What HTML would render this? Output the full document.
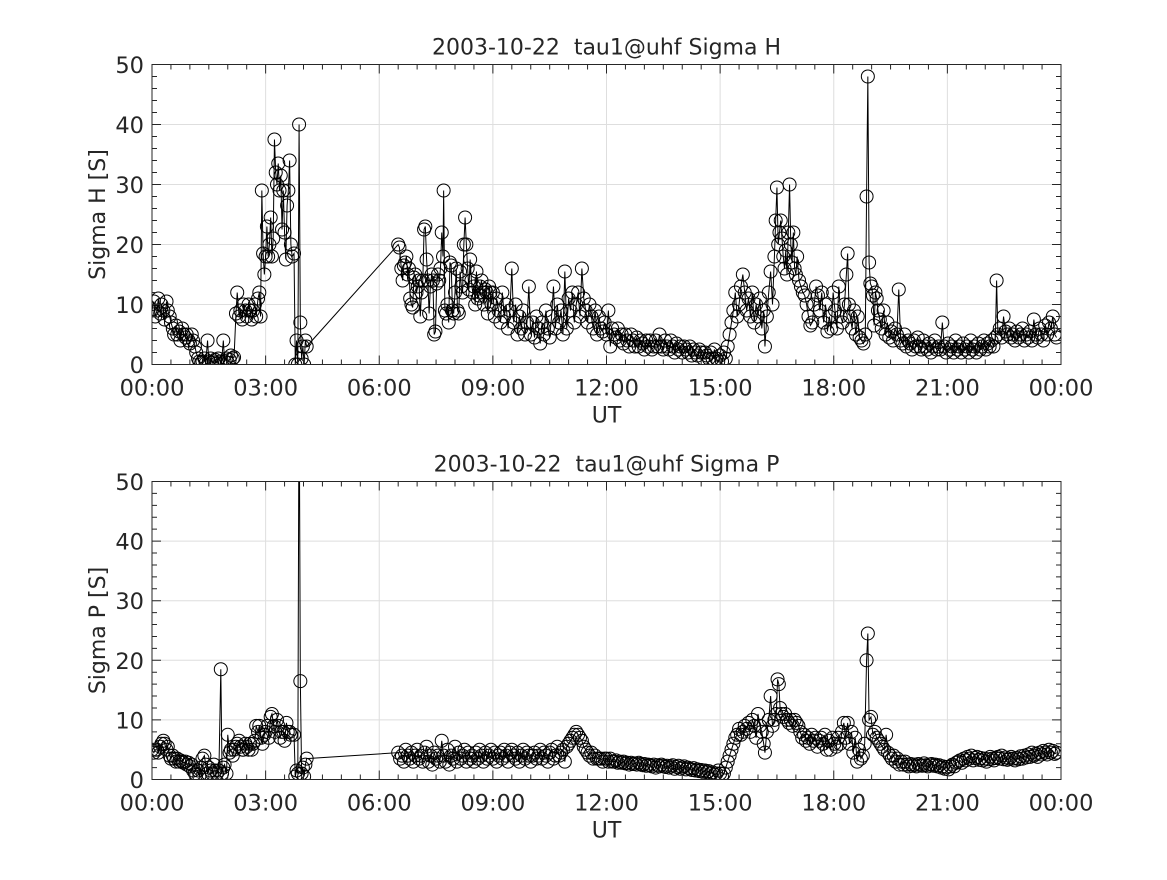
<!DOCTYPE html>
<html><head><meta charset="utf-8"><style>
html,body{margin:0;padding:0;background:#fff;}
svg text{font-family:"DejaVu Sans","Liberation Sans",sans-serif;fill:#262626;}
</style></head><body>
<svg id="fig" width="1167" height="875" viewBox="0 0 1167 875" xmlns="http://www.w3.org/2000/svg"></svg>
<script>
const xTickLabels=["00:00","03:00","06:00","09:00","12:00","15:00","18:00","21:00","00:00"];
const yTickLabels=["0","10","20","30","40","50"];
const hData=[[0,9],[3,10.5],[5,8],[8,9],[10,11],[13,8.5],[15,10],[18,9],[20,7.5],[23,10.5],[25,9],[28,8],[30,7],[33,6],[35,5],[38,6.5],[40,5],[43,5.5],[45,4],[48,6],[50,5],[53,4.5],[55,5],[58,4],[60,3.5],[63,5],[65,4],[68,3],[70,2],[73,1],[75,0.5],[78,0.3],[80,0.5],[83,1],[85,0.2],[88,4],[90,0.5],[93,1],[95,0.3],[98,0.5],[100,0.8],[103,0.2],[105,1],[108,0.5],[110,0.2],[113,4],[115,0.5],[118,1],[120,0.3],[123,0.8],[125,1.5],[128,1],[130,1.2],[133,8.5],[135,12],[138,8],[140,9],[143,7.5],[145,10],[148,9],[150,8],[153,10],[155,9],[158,7.5],[160,9],[163,10],[165,8],[168,11],[170,12],[172,8],[174,29],[176,18.5],[178,15],[180,18],[182,23],[184,18],[186,20],[188,24.5],[190,18],[192,21],[194,37.5],[196,32],[198,30],[200,33.5],[202,29],[204,31.5],[206,22.5],[208,29],[210,22],[212,17.5],[214,26.5],[216,29],[218,34],[220,20],[222,18],[225,18.5],[227,0],[229,4],[231,0],[233,40],[235,7],[237,1],[239,3],[241,0],[243,4],[245,3],
[390,20],[392,19.5],[395,16],[397,14],[399,16.5],[401,17],[403,18],[405,15],[407,16],[409,11],[411,10],[413,9.5],[415,14.5],[417,15],[419,12],[421,13],[423,14],[425,8],[427,12],[429,14],[431,22.5],[433,23],[435,17.5],[437,14],[439,8.5],[441,13],[443,15],[445,14],[447,5],[449,5.5],[451,13.5],[453,15],[455,14],[457,16],[459,22],[461,18],[462,29],[464,9],[466,8.5],[468,10],[470,7],[472,17],[474,16.5],[476,9],[478,8.5],[480,12],[482,16],[484,9],[486,8.5],[488,15.5],[490,13],[492,12],[494,20],[496,24.5],[498,20],[500,16],[502,12.5],[504,17.5],[506,14],[508,12],[510,13],[512,10],[514,15.5],[516,11],[518,11.5],[520,13],[522,14],[524,12],[526,10],[528,12.5],[530,12],[532,8.5],[534,13],[536,12],[538,10],
[540,12],[543,8],[546,11],[549,9],[552,7],[555,12],[558,8],[561,10],[564,6],[567,9],[570,16],[573,7],[576,10],[579,5],[582,8],[585,6],[588,9],[591,5],[594,7],[597,13],[600,5],[603,7],[606,4.5],[609,8],[612,6],[615,3.5],[618,7],[621,5],[624,9],[627,6],[630,4.5],[633,8],[636,13],[639,6],[642,10],[645,7],[648,9],[651,5],[654,15.5],[657,6],[660,11],[663,9],[666,12],[669,7],[672,10],[675,12],[678,8],[681,16],[684,11],[687,9],[690,7],[693,10],[696,8],[699,6],[702,9],[705,5],[708,8],[711,6],[714,5.5],[717,7],[720,5],[723,9],[726,3],[729,6],[732,5],[735,4.5],[738,6],[741,4],[744,5],[747,3.5],[750,5],[753,4],[756,3],[759,5],[762,4],[765,3],[768,4.5],[771,3],[774,4],[777,3.5],[780,2.5],[783,4],[786,3],[789,4],[792,2.5],[795,3],[798,4],[801,3],[804,5],[807,3],[810,2.5],[813,4],[816,3],[819,2.5],[822,4],[825,3],[828,2],[831,3.5],[834,2.5],[837,3],[840,2],[843,3],[846,2.5],[849,2],[852,3],[855,1.5],[858,2.5],[861,2],[864,1.5],[867,2.5],[870,2],[873,1],[876,2],[879,1.5],[882,1],[885,2],[888,1],[891,2.5],[894,1],[897,0.5],[900,1.5],[903,0.5],[906,2],[909,1],[912,3],[915,5],[918,7],[921,9],[924,12],[927,8],[930,10],[933,13],[936,15],[939,12],[942,9],[945,11],[948,8],[951,12],[954,7],[957,10],[960,8],[963,11],[966,6],[969,9],[971,3],[974,8],[977,12],[980,15.5],[983,10],[986,18],[988,24],[990,29.5],[992,20],[994,22],[996,24],[998,21],[1000,18],[1002,16],[1004,19],[1006,15],[1008,22],[1010,30],[1012,20],[1014,17],[1016,22],[1018,16],[1020,15],[1022,18],[1025,14],[1028,13],[1031,12],[1034,11.5],[1037,10],[1040,8],[1043,6.5],[1046,7],[1049,10],[1052,13],[1055,11.5],[1058,9],[1061,12],[1064,7],[1067,10],[1070,5.5],[1073,8],[1076,6],[1079,12],[1082,9],[1085,6],[1088,13],[1091,8],[1094,7],[1097,10],[1100,15],[1102,18.5],[1104,10],[1106,8],[1109,6],[1112,9],[1115,5],[1118,8],[1121,4.5],[1124,4],[1127,3.5],[1130,5],[1132,28],[1134,48],[1136,17],[1138,13.5],[1140,13],[1142,11.5],[1144,6.5],[1146,12],[1148,11],[1150,9],[1153,7.5],[1156,6],[1159,9],[1162,5],[1165,7],[1168,4.5],[1171,5.5],[1174,4],[1177,6],[1180,5],[1183,12.5],[1186,4],[1189,3.5],[1192,5],[1195,3],[1198,4],[1201,3.5],[1204,2.5],[1207,4],[1210,3],[1213,4.5],[1216,3],[1219,2.5],[1222,4],[1225,3],[1228,2.5],[1231,3.5],[1234,2],[1237,3],[1240,4],[1243,2.5],[1246,3],[1249,2.5],[1252,7],[1255,3],[1258,2],[1261,3.5],[1264,2.5],[1267,3],[1270,2],[1273,4],[1276,2.5],[1279,3],[1282,2],[1285,3.5],[1288,2.5],[1291,3],[1294,2],[1297,4],[1300,2.5],[1303,3],[1306,2],[1309,3.5],[1312,2.5],[1315,3],[1318,4],[1321,2.5],[1324,3.5],[1327,3],[1330,4],[1333,3],[1336,4.5],[1338,14],[1340,5],[1343,6],[1346,4.5],[1349,8],[1352,5.5],[1355,5],[1358,6],[1361,4.5],[1364,5],[1367,4],[1370,5.5],[1373,4.5],[1376,5],[1379,6],[1382,4],[1385,5],[1388,4.5],[1391,5.5],[1394,4],[1397,7.5],[1400,5],[1403,4.5],[1406,6],[1409,5],[1412,4],[1415,6.5],[1418,5],[1421,7],[1424,6],[1427,8],[1430,5],[1433,4.5]];
const pData=[[0,5],[3,4.5],[5,5],[8,5],[10,4.5],[13,5.5],[15,6],[18,6.5],[20,6],[23,5],[25,5.5],[28,4],[30,3.5],[33,4],[35,3.5],[38,3],[40,3.5],[43,3],[45,3.2],[48,3],[50,2.8],[53,3],[55,2.5],[58,2.8],[60,2.2],[63,2.5],[65,1.5],[68,1],[70,0.8],[73,1.5],[75,0.5],[78,2],[80,3.5],[83,4],[85,2.5],[88,1],[90,2],[93,1.5],[95,1],[98,2.5],[100,1.5],[103,1],[106,1.5],[109,18.5],[111,1],[113,2],[115,2.5],[118,1],[120,7.5],[123,4.5],[125,5],[128,4],[130,5],[133,5.5],[135,6],[138,6.5],[140,5.5],[143,5],[145,5],[148,6],[150,5.5],[153,5],[155,6],[158,5],[160,6],[163,6.5],[165,9],[168,8],[170,9],[173,7],[175,6],[178,7.5],[180,8],[183,9],[185,7],[188,10.5],[190,11],[193,9],[195,8],[198,10],[200,9],[203,7],[205,8],[208,8],[210,6.5],[213,9.5],[215,8],[218,8],[220,7.5],[225,7.5],[227,0.5],[229,1.5],[231,1],[233,70],[235,16.5],[237,1],[239,2],[241,0.5],[243,2.5],[245,3.5],
[390,4.5],[393,3.5],[396,4],[399,3],[402,5],[405,4],[408,3.5],[411,4.5],[414,3],[417,4],[420,5],[423,3.5],[426,4],[429,3],[432,4.5],[435,5.5],[438,3],[441,4],[444,2.5],[447,4.5],[450,3.5],[453,4],[456,3],[459,6.5],[462,4],[465,3],[468,5],[471,2.5],[474,4],[477,3.5],[480,5.5],[483,3],[486,4.5],[489,3.5],[492,4],[495,5],[498,3],[501,4.5],[504,3.5],[507,4],[510,3],[513,4.5],[516,3.5],[519,5],[522,4],[525,3],[528,4.5],[531,3.5],[534,4],[537,5],[540,3.5],[543,4.5],[546,3],[549,4],[552,4.5],[555,3.5],[558,5],[561,4],[564,3],[567,4.5],[570,5],[573,4],[576,3.5],[579,4.5],[582,3],[585,4],[588,5],[591,3.5],[594,4.5],[597,4],[600,3],[603,4],[606,4.5],[609,3.5],[612,4],[615,5],[618,3.5],[621,4.5],[624,4],[627,3],[630,4.5],[633,5],[636,3.5],[639,4],[642,5.5],[645,4],[648,4.5],[651,5],[654,3],[657,5.5],[660,6],[663,6.5],[666,7],[669,7.5],[672,8],[675,7.5],[678,7],[681,6.5],[684,5.5],[687,5],[690,4.5],[693,4],[696,4.5],[699,3.5],[702,4],[705,3.5],[708,3.5],[711,3.5],[714,3],[717,3.5],[720,3.5],[723,3],[726,3.5],[729,3],[732,3],[735,3.2],[738,2.8],[741,3],[744,2.8],[747,3],[750,2.7],[753,2.8],[756,2.5],[759,2.8],[762,2.6],[765,2.7],[768,2.5],[771,2.8],[774,2.6],[777,2.4],[780,2.6],[783,2.3],[786,2.5],[789,2.4],[792,2.2],[795,2.5],[798,2],[801,2.4],[804,2.2],[807,2.5],[810,2.3],[813,2.1],[816,2.3],[819,2],[822,2.2],[825,2.4],[828,1.8],[831,2.1],[834,2.3],[837,1.8],[840,2],[843,2.2],[846,1.7],[849,2],[852,1.8],[855,1.6],[858,1.9],[861,1.5],[864,1.7],[867,1.4],[870,1.6],[873,1.3],[876,1.5],[879,1.2],[882,1.4],[885,1],[888,1.2],[891,0.8],[894,1],[897,1.5],[900,1],[903,0.5],[906,1],[909,2],[912,3],[915,4],[918,5],[921,6],[924,7],[927,7.5],[930,8.5],[933,7.5],[936,8],[939,9],[942,8.5],[945,9.5],[948,8],[951,10],[954,9],[957,7],[960,11],[963,9],[966,8],[969,6],[971,4.5],[974,8],[977,10],[980,14],[983,9],[986,10],[989,11],[991,16.8],[993,16],[995,12],[997,11],[1000,10.5],[1003,11],[1006,10],[1009,9.5],[1012,10],[1015,9],[1018,10],[1021,9.5],[1024,9],[1027,8],[1030,7],[1033,7.5],[1036,6.5],[1039,7],[1042,6],[1045,7.5],[1048,6.5],[1051,7],[1054,5.5],[1057,6.5],[1060,7],[1063,6],[1066,7.5],[1069,5],[1072,6.5],[1075,5],[1078,7],[1081,6],[1084,5.5],[1087,7],[1090,6],[1093,8],[1096,9.5],[1099,7],[1102,9.5],[1105,6],[1108,8],[1111,4.5],[1114,7],[1117,3],[1120,5],[1123,3.5],[1126,4],[1129,6],[1132,20],[1134,24.5],[1136,10],[1139,10.5],[1142,7.5],[1145,8],[1148,7],[1151,6.5],[1154,6],[1157,5.5],[1160,5],[1163,7.5],[1166,4.5],[1169,4],[1172,3.5],[1175,4],[1178,3],[1181,3.5],[1184,2.5],[1187,3],[1190,2.5],[1193,3],[1196,2.5],[1199,2.2],[1202,2.6],[1205,2.3],[1208,2.5],[1211,2.2],[1214,2.6],[1217,2.4],[1220,2.3],[1223,2.7],[1226,2.4],[1229,2.2],[1232,2.5],[1235,2.6],[1238,2.3],[1241,2.5],[1244,2.2],[1247,2.4],[1250,2],[1253,2.2],[1256,1.8],[1259,2.1],[1262,1.7],[1265,2.2],[1268,2.5],[1271,2.2],[1274,2.8],[1277,3],[1280,3.2],[1283,2.8],[1286,3.5],[1289,3.2],[1292,3.8],[1295,3.5],[1298,4],[1301,3.2],[1304,3.6],[1307,3.8],[1310,3.3],[1313,3.6],[1316,3.2],[1319,3.5],[1322,3],[1325,3.4],[1328,3.8],[1331,3.5],[1334,3.2],[1337,3.6],[1340,3.8],[1343,3.5],[1346,4],[1349,3.4],[1352,3.7],[1355,3.3],[1358,3.5],[1361,3.8],[1364,3.5],[1367,3.2],[1370,3.6],[1373,3.4],[1376,3.9],[1379,3.5],[1382,4],[1385,3.7],[1388,4.2],[1391,3.8],[1394,4.5],[1397,4],[1400,4.3],[1403,3.8],[1406,4.5],[1409,4.2],[1412,4.8],[1415,4.5],[1418,4.2],[1421,5],[1424,4.5],[1427,4.8],[1430,4.3],[1433,4.5]];

const NS="http://www.w3.org/2000/svg";
const svg=document.getElementById('fig');
function mk(tag,attrs,parent){const e=document.createElementNS(NS,tag);for(const k in attrs)e.setAttribute(k,attrs[k]);(parent||svg).appendChild(e);return e;}
const X0=152,X1=1061;
function drawPanel(data,top,bottom,title,ylabel,idx){
  const sx=t=>X0+(t/1440)*(X1-X0);
  const sy=v=>bottom-(v/50)*(bottom-top);
  const g=mk('g',{});
  
  
  mk('rect',{x:X0,y:top,width:X1-X0,height:bottom-top,fill:'#fff'},g);
  for(let i=0;i<=8;i++){const x=sx(i*180);const l=mk('line',{x1:x,x2:x,y1:top,y2:bottom,stroke:'#dedede','stroke-width':1},g);
    }
  for(let i=0;i<=5;i++){const y=sy(i*10);const l=mk('line',{x1:X0,x2:X1,y1:y,y2:y,stroke:'#dedede','stroke-width':1},g);
    }
  const cid='clip'+idx;
  const cp=mk('clipPath',{id:cid},g);mk('rect',{x:X0,y:top,width:X1-X0,height:bottom-top},cp);
  const sg=mk('g',{'clip-path':'url(#'+cid+')'},g);
  
  
  let d='';for(let i=0;i<data.length;i++){const [t,v]=data[i];d+=(i===0?'M':'L')+sx(t).toFixed(2)+','+sy(v).toFixed(2);}
  const ln=mk('path',{d:d,fill:'none',stroke:'#000','stroke-width':1},sg);
  
  
  for(const [t,v] of data){const c=mk('circle',{cx:sx(t).toFixed(2),cy:sy(v).toFixed(2),r:6.5,fill:'none',stroke:'#000','stroke-width':1},sg);
    
    }
  let td='';
  for(let m=0;m<=1440;m+=30){const x=sx(m);const L=(m%180===0)?9:5;td+=`M${x},${bottom}v${-L}M${x},${top}v${L}`;}
  for(let v=0;v<=50;v+=2){const y=sy(v);const L=(v%10===0)?9:5;td+=`M${X0},${y}h${L}M${X1},${y}h${-L}`;}
  mk('path',{d:td,stroke:'#262626','stroke-width':1,fill:'none'},g);
  const box=mk('rect',{x:X0,y:top,width:X1-X0,height:bottom-top,fill:'none',stroke:'#262626','stroke-width':1},g);
  
  xTickLabels.forEach((s,i)=>{const t=mk('text',{x:sx(i*180),y:bottom+31,'text-anchor':'middle','font-size':22.5},g);t.textContent=s;
    });
  yTickLabels.forEach((s,i)=>{const t=mk('text',{x:X0-8,y:sy(i*10)+8.5,'text-anchor':'end','font-size':22.5},g);t.textContent=s;
    });
  const tt=mk('text',{x:(X0+X1)/2,y:top-10,'text-anchor':'middle','font-size':22},g);
  tt.setAttribute('style','white-space:pre');tt.textContent=title;
  
  const xl=mk('text',{x:(X0+X1)/2,y:bottom+58,'text-anchor':'middle','font-size':22},g);xl.textContent='UT';
  
  const cy=(top+bottom)/2;
  const yl=mk('text',{x:105,y:cy,'text-anchor':'middle','font-size':22,transform:`rotate(-90 105 ${cy})`},g);yl.textContent=ylabel;
  
}
drawPanel(hData,64.5,364.5,'2003-10-22  tau1@uhf Sigma H','Sigma H [S]',1);
drawPanel(pData,481.5,779.5,'2003-10-22  tau1@uhf Sigma P','Sigma P [S]',2);
</script>
</body></html>
